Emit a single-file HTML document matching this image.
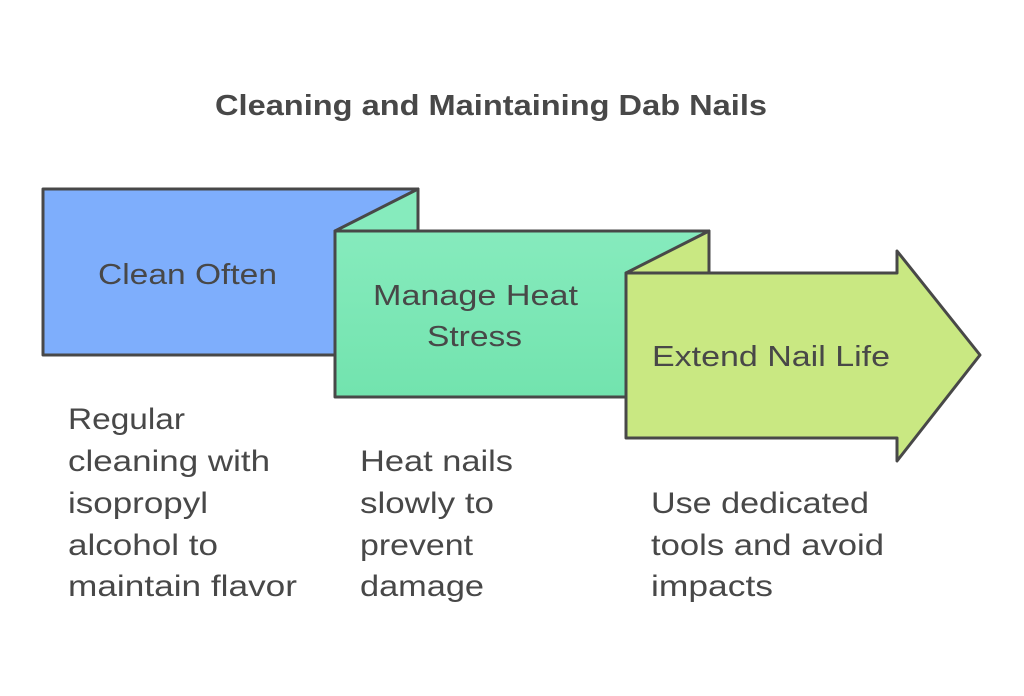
<!DOCTYPE html>
<html><head><style>
body{margin:0;background:#fff;}
svg text{font-family:"Liberation Sans",Arial,sans-serif;fill:#484848;}
</style></head><body>
<svg width="1024" height="691" xmlns="http://www.w3.org/2000/svg">
<defs>
<linearGradient id="g" x1="0" y1="0" x2="0" y2="1"><stop offset="0" stop-color="#86ebbd"/><stop offset="1" stop-color="#72e3ae"/></linearGradient>
</defs>
<text x="215" y="115" font-size="29" font-weight="bold" textLength="552" lengthAdjust="spacingAndGlyphs">Cleaning and Maintaining Dab Nails</text>
<g stroke="#484848" stroke-width="3" stroke-linejoin="round">
<rect x="43" y="189" width="375" height="166" fill="#7eaefc"/>
<polygon points="335,231 418,189 418,231" fill="#86ebbd"/>
<rect x="335" y="231" width="374" height="166" fill="url(#g)"/>
<polygon points="626,273 709,231 709,273" fill="#c9e882"/>
<polygon points="626,273 897,273 897,251 980,355 897,461 897,438 626,438" fill="#c9e882"/>
</g>
<g font-size="29" lengthAdjust="spacingAndGlyphs">
<text x="98" y="284" textLength="179" lengthAdjust="spacingAndGlyphs">Clean Often</text>
<text x="373" y="305" textLength="205" lengthAdjust="spacingAndGlyphs">Manage Heat</text>
<text x="427" y="346" textLength="95" lengthAdjust="spacingAndGlyphs">Stress</text>
<text x="652" y="366" textLength="238" lengthAdjust="spacingAndGlyphs">Extend Nail Life</text>
</g>
<g font-size="30">
<text x="68" y="429" textLength="117" lengthAdjust="spacingAndGlyphs">Regular</text>
<text x="68" y="471" textLength="202" lengthAdjust="spacingAndGlyphs">cleaning with</text>
<text x="68" y="513" textLength="140" lengthAdjust="spacingAndGlyphs">isopropyl</text>
<text x="68" y="555" textLength="150" lengthAdjust="spacingAndGlyphs">alcohol to</text>
<text x="68" y="596" textLength="229" lengthAdjust="spacingAndGlyphs">maintain flavor</text>
<text x="360" y="471" textLength="153" lengthAdjust="spacingAndGlyphs">Heat nails</text>
<text x="360" y="513" textLength="134" lengthAdjust="spacingAndGlyphs">slowly to</text>
<text x="360" y="555" textLength="113" lengthAdjust="spacingAndGlyphs">prevent</text>
<text x="360" y="596" textLength="124" lengthAdjust="spacingAndGlyphs">damage</text>
<text x="651" y="513" textLength="218" lengthAdjust="spacingAndGlyphs">Use dedicated</text>
<text x="651" y="555" textLength="233" lengthAdjust="spacingAndGlyphs">tools and avoid</text>
<text x="651" y="596" textLength="122" lengthAdjust="spacingAndGlyphs">impacts</text>
</g>
</svg>
</body></html>
